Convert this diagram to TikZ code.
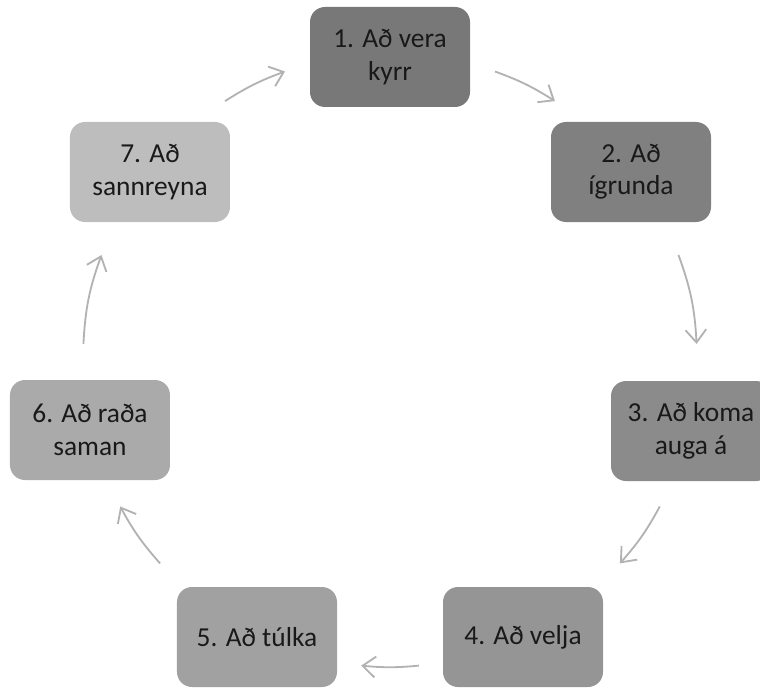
\documentclass[tikz,border=0pt]{standalone}
\usepackage{fontspec}
\setmainfont{Carlito}
\usepackage{tikz}
\usetikzlibrary{arrows.meta}
\definecolor{grey1}{gray}{0.47}
\definecolor{grey2}{gray}{0.50}
\definecolor{grey3}{gray}{0.545}
\definecolor{grey4}{gray}{0.585}
\definecolor{grey5}{gray}{0.63}
\definecolor{grey6}{gray}{0.665}
\definecolor{grey7}{gray}{0.74}
\definecolor{arrowgrey}{gray}{0.70}

\tikzset{
  stagebox/.style={rounded corners=0.375cm, minimum width=4cm, minimum height=2.5cm,
    inner sep=0pt, align=center, text=black!90,
    font=\fontsize{19.5}{23}\selectfont},
  cyc/.style={arrowgrey, line width=1.3pt, -{Straight Barb[length=3.2mm, width=5.2mm]}}
}

\begin{document}
\begin{tikzpicture}[thick, color=gray]

\useasboundingbox (-9.75,-8.2) rectangle (9.25,9.0);
\clip (-9.75,-8.2) rectangle (9.25,9.0);

%stage boxes
\node[stagebox, fill=grey1] at (0, 7.575)(s1){1. Að vera\\kyrr};
\node[stagebox, fill=grey2] at (6.025, 4.7)(s2){2. Að\\ígrunda};
\node[stagebox, fill=grey3] at (7.525, -1.775)(s3){3. Að koma\\auga á};
\node[stagebox, fill=grey4] at (3.325, -6.925)(s4){4. Að velja};
\node[stagebox, fill=grey5] at (-3.325, -6.925)(s5){5. Að túlka};
\node[stagebox, fill=grey6] at (-7.5, -1.75)(s6){6. Að raða\\saman};
\node[stagebox, fill=grey7] at (-6.0, 4.7)(s7){7. Að\\sannreyna};

%arrow ends on the cycle
\coordinate (a1) at (70:7.675);     \coordinate (b1) at (57.5:7.675);
\coordinate (a2) at (20:7.675);     \coordinate (b2) at (3:7.675);
\coordinate (a3) at (-28.5:7.675);  \coordinate (b3) at (-41.5:7.675);
\coordinate (a4) at (-84.6:7.675);  \coordinate (b4) at (-95.4:7.675);
\coordinate (a5) at (-138.5:7.675); \coordinate (b5) at (-151.5:7.675);
\coordinate (a6) at (177:7.675);    \coordinate (b6) at (160:7.675);
\coordinate (a7) at (122.5:7.675);  \coordinate (b7) at (110:7.675);

%arrows
\draw[cyc] (a1) to[bend left=6.25] (b1);
\draw[cyc] (a2) to[bend left=8.5] (b2);
\draw[cyc] (a3) to[bend left=6.5] (b3);
\draw[cyc] (a4) to[bend left=5.4] (b4);
\draw[cyc] (a5) to[bend left=6.5] (b5);
\draw[cyc] (a6) to[bend left=8.5] (b6);
\draw[cyc] (a7) to[bend left=6.25] (b7);

\end{tikzpicture}
\end{document}
